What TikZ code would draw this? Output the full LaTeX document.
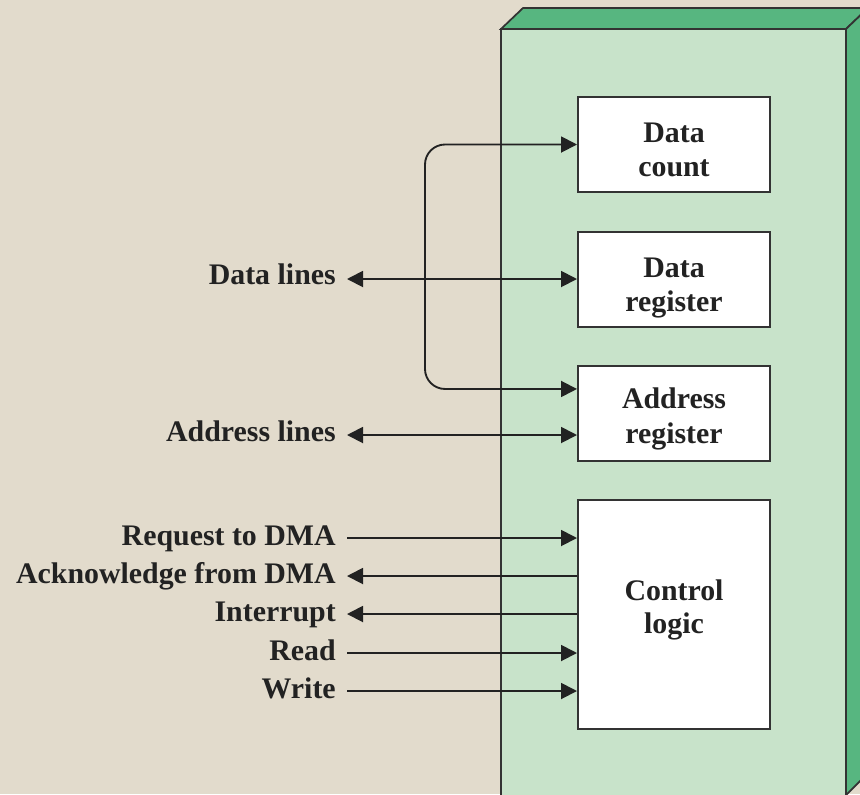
\documentclass[tikz,border=0pt]{standalone}
\usepackage{fontspec}
\setmainfont{Liberation Serif}
\usetikzlibrary{arrows.meta}
\definecolor{bg}{HTML}{E2DBCC}
\definecolor{face}{HTML}{C8E3CA}
\definecolor{side}{HTML}{57B680}
\definecolor{ink}{HTML}{222222}
\definecolor{edge}{HTML}{333333}
\begin{document}
\begin{tikzpicture}[x=0.75pt,y=-0.75pt,
  txt/.style={font=\fontsize{22.4}{25.5}\selectfont\bfseries, text=ink, inner sep=0pt},
  lbl/.style={txt, anchor=base east},
  inb/.style={txt, anchor=base},
  reg/.style={draw=edge, line width=1.5pt, fill=white,
    minimum width=144pt, inner sep=0pt},
  sig/.style={draw=ink, line width=1.4pt},
  tip/.style={-{Triangle[length=12pt,width=12pt]}},
  tips/.style={{Triangle[length=12pt,width=12pt]}-{Triangle[length=12pt,width=12pt]}}]
\useasboundingbox (0,0) rectangle (860,794);
\fill[bg] (0,0) rectangle (860,794);
\begin{scope}
\clip (0,0) rectangle (860,794);
% 3D module box
\filldraw[fill=side, draw=edge, line width=1.3pt] (501,29) -- (523,8) -- (868,8) -- (846,29) -- cycle;
\filldraw[fill=side, draw=edge, line width=1.3pt] (846,29) -- (868,8) -- (868,773) -- (846,795) -- cycle;
\filldraw[fill=face, draw=edge, line width=1.3pt] (501,29) rectangle (846,800);
\end{scope}
% registers
\node[reg, minimum height=71.25pt] (dc) at (674,144.5) {};
\node[reg, minimum height=71.25pt] (dr) at (674,279.5) {};
\node[reg, minimum height=71.25pt] (ar) at (674,413.5) {};
\node[reg, minimum height=171.75pt] (cl) at (674,614.5) {};
\node[inb] (dc1) at (674,142) {Data};
\node[inb] (dc2) at (674,176) {count};
\node[inb] (dr1) at (674,277) {Data};
\node[inb] (dr2) at (674,311) {register};
\node[inb] (ar1) at (674,408) {Address};
\node[inb] (ar2) at (674,443) {register};
\node[inb] (cl1) at (674,600) {Control};
\node[inb] (cl2) at (674,633) {logic};
% labels
\node[lbl] (dl) at (336,284) {Data lines};
\node[lbl] (al) at (336,441) {Address lines};
\node[lbl] (rq) at (336,545) {Request to DMA};
\node[lbl] (ak) at (336,583) {Acknowledge from DMA};
\node[lbl] (it) at (336,621) {Interrupt};
\node[lbl] (rd) at (336,660) {Read};
\node[lbl] (wr) at (336,698) {Write};
% connector ends
\coordinate (dlE) at (347,279);
\coordinate (alE) at (347,435);
\coordinate (rqE) at (347,538);
\coordinate (akE) at (347,576);
\coordinate (itE) at (347,614);
\coordinate (rdE) at (347,653);
\coordinate (wrE) at (347,691);
\coordinate (loopx) at (425,0);
% connectors
\draw[sig, tips] (dlE) -- (dlE -| dr.west);
\draw[sig, tips] (alE) -- (alE -| ar.west);
\draw[sig, tips, rounded corners=15pt] ([yshift=18.4pt]ar.west) -| (loopx |- dc.west) -- (dc.west);
\draw[sig, tip] (rqE) -- (rqE -| cl.west);
\draw[sig, tip] (akE -| cl.west) -- (akE);
\draw[sig, tip] (itE -| cl.west) -- (itE);
\draw[sig, tip] (rdE) -- (rdE -| cl.west);
\draw[sig, tip] (wrE) -- (wrE -| cl.west);
\end{tikzpicture}
\end{document}
